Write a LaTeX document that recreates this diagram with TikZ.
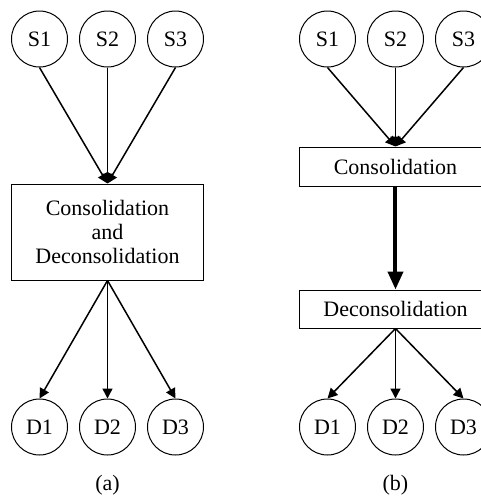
\documentclass[tikz,border=0pt]{standalone}
\usepackage{fontspec}
\setmainfont{Liberation Serif}
\usetikzlibrary{arrows.meta}

\begin{document}
\begin{tikzpicture}[x=0.5pt,y=-0.5pt,
  every node/.style={font=\fontsize{11}{12}\selectfont},
  site/.style={draw,circle,minimum size=28pt,inner sep=0pt,line width=0.5pt},
  stage/.style={draw,minimum width=96pt,inner sep=0pt,line width=0.5pt,align=center},
  flow/.style={-{Triangle[length=5pt,width=5pt]},line width=0.75pt},
  bulk/.style={-{Triangle[length=9pt,width=7.5pt]},line width=2pt}]
  \pgfmathsetmacro{\xA}{107.5}
  \pgfmathsetmacro{\xB}{395.5}
  \pgfmathsetmacro{\dx}{68}
  \pgfmathsetmacro{\yS}{39}
  \pgfmathsetmacro{\yD}{427}
  \useasboundingbox (0,0) rectangle (481,500);

  % (a) one combined stage
  \node[site] (s1a) at (\xA-\dx,\yS) {S1};
  \node[site] (s2a) at (\xA,\yS)     {S2};
  \node[site] (s3a) at (\xA+\dx,\yS) {S3};
  \node[stage,minimum height=48pt] (cda) at (\xA,232) {Consolidation\\and\\Deconsolidation};
  \node[site] (d1a) at (\xA-\dx,\yD) {D1};
  \node[site] (d2a) at (\xA,\yD)     {D2};
  \node[site] (d3a) at (\xA+\dx,\yD) {D3};
  \draw[flow] (s1a.south) -- (cda.north);
  \draw[flow] (s2a.south) -- (cda.north);
  \draw[flow] (s3a.south) -- (cda.north);
  \draw[flow] (cda.south) -- (d1a.north);
  \draw[flow] (cda.south) -- (d2a.north);
  \draw[flow] (cda.south) -- (d3a.north);
  \node (capa) at (\xA,485) {(a)};

  % (b) two separate stages
  \node[site] (s1b) at (\xB-\dx,\yS) {S1};
  \node[site] (s2b) at (\xB,\yS)     {S2};
  \node[site] (s3b) at (\xB+\dx,\yS) {S3};
  \node[stage,minimum height=19.5pt] (conb) at (\xB,166.5) {Consolidation};
  \node[stage,minimum height=19pt] (decb) at (\xB,309) {Deconsolidation};
  \node[site] (d1b) at (\xB-\dx,\yD) {D1};
  \node[site] (d2b) at (\xB,\yD)     {D2};
  \node[site] (d3b) at (\xB+\dx,\yD) {D3};
  \draw[flow] (s1b.south) -- (conb.north);
  \draw[flow] (s2b.south) -- (conb.north);
  \draw[flow] (s3b.south) -- (conb.north);
  \draw[bulk] (conb.south) -- (decb.north);
  \draw[flow] (decb.south) -- (d1b.north);
  \draw[flow] (decb.south) -- (d2b.north);
  \draw[flow] (decb.south) -- (d3b.north);
  \node (capb) at (\xB,485) {(b)};
\end{tikzpicture}
\end{document}
